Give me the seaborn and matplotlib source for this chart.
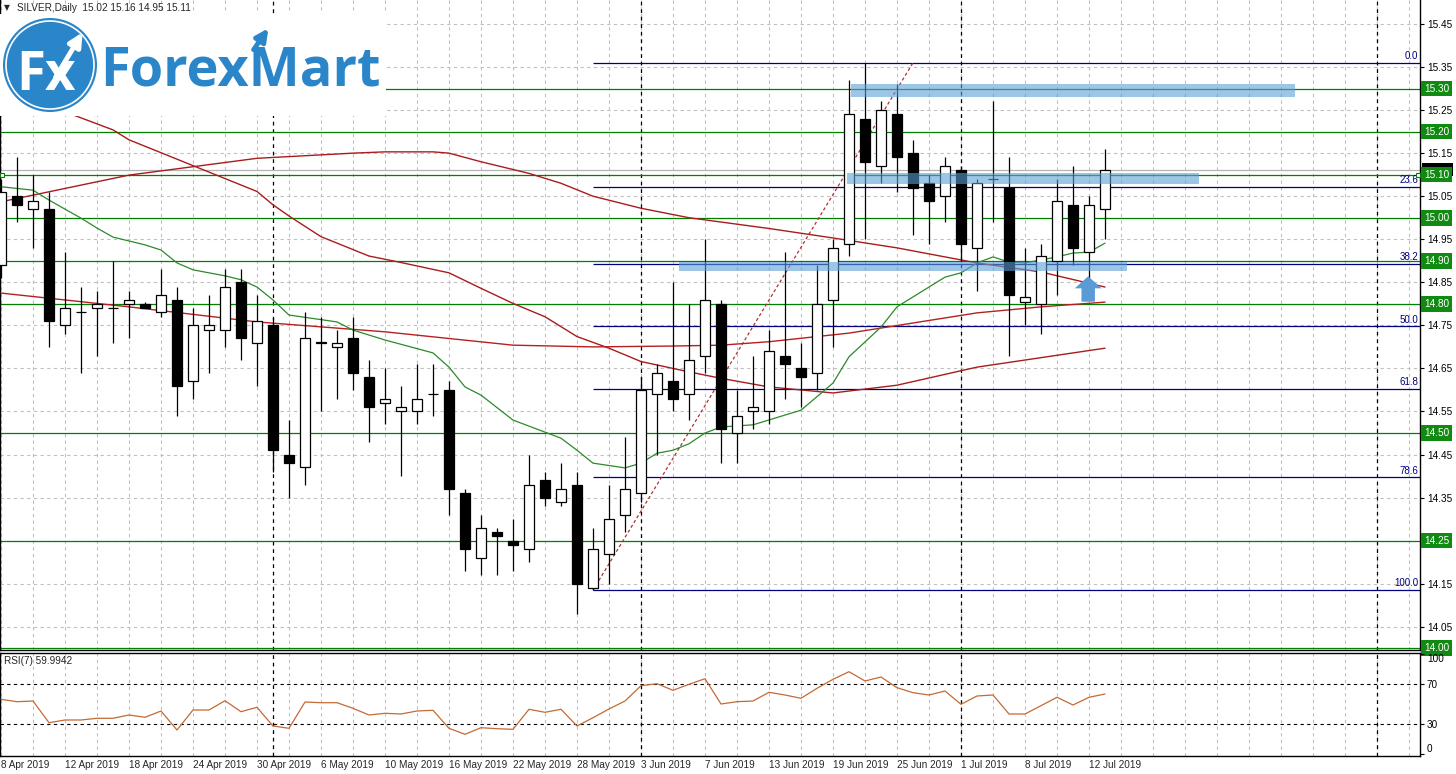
import numpy as np
import pandas as pd
import matplotlib
matplotlib.use("Agg")
import matplotlib.pyplot as plt
import matplotlib.transforms as mtransforms
from matplotlib.patches import Circle, Rectangle, Polygon
import seaborn as sns

# daily candles, bar 0 = 8 Apr 2019
opens = [14.89, 15.05, 15.02, 15.02, 14.75, 14.78, 14.79, 14.79, 14.80, 14.80,
         14.78, 14.81, 14.62, 14.74, 14.74, 14.85, 14.71, 14.75, 14.45, 14.42,
         14.71, 14.70, 14.72, 14.63, 14.57, 14.55, 14.55, 14.59, 14.60, 14.36,
         14.21, 14.27, 14.25, 14.23, 14.39, 14.34, 14.38, 14.14, 14.22, 14.31,
         14.36, 14.59, 14.62, 14.59, 14.68, 14.80, 14.50, 14.55, 14.55, 14.68,
         14.65, 14.64, 14.81, 14.94, 15.23, 15.12, 15.24, 15.15, 15.08, 15.05,
         15.11, 14.93, 15.09, 15.07, 14.805, 14.80, 14.90, 15.03, 14.92, 15.02]
highs = [15.09, 15.14, 15.10, 15.06, 14.92, 14.84, 14.83, 14.90, 14.83, 14.805,
         14.88, 14.84, 14.79, 14.82, 14.88, 14.88, 14.82, 14.77, 14.53, 14.78,
         14.77, 14.74, 14.77, 14.67, 14.65, 14.61, 14.66, 14.66, 14.62, 14.37,
         14.31, 14.28, 14.30, 14.45, 14.41, 14.43, 14.41, 14.28, 14.38, 14.49,
         14.63, 14.66, 14.85, 14.80, 14.95, 14.81, 14.60, 14.68, 14.74, 14.92,
         14.71, 14.89, 14.95, 15.32, 15.36, 15.27, 15.31, 15.18, 15.10, 15.14,
         15.12, 15.09, 15.27, 15.14, 14.93, 14.94, 15.09, 15.12, 15.05, 15.16]
lows = [14.86, 14.99, 14.93, 14.70, 14.73, 14.64, 14.68, 14.71, 14.72, 14.79,
        14.77, 14.54, 14.58, 14.64, 14.70, 14.67, 14.61, 14.41, 14.35, 14.38,
        14.55, 14.58, 14.60, 14.48, 14.52, 14.40, 14.52, 14.54, 14.31, 14.18,
        14.17, 14.17, 14.18, 14.20, 14.33, 14.33, 14.08, 14.135, 14.15, 14.27,
        14.34, 14.45, 14.55, 14.53, 14.64, 14.43, 14.43, 14.51, 14.52, 14.58,
        14.56, 14.60, 14.70, 14.91, 14.95, 15.08, 15.06, 14.96, 14.94, 14.99,
        14.90, 14.83, 14.99, 14.68, 14.75, 14.73, 14.82, 14.89, 14.84, 14.95]
closes = [15.06, 15.03, 15.04, 14.76, 14.79, 14.78, 14.80, 14.79, 14.81, 14.79,
          14.82, 14.61, 14.75, 14.75, 14.84, 14.72, 14.76, 14.46, 14.43, 14.72,
          14.71, 14.71, 14.64, 14.56, 14.58, 14.56, 14.58, 14.59, 14.37, 14.23,
          14.28, 14.26, 14.24, 14.38, 14.35, 14.37, 14.15, 14.23, 14.30, 14.37,
          14.60, 14.64, 14.58, 14.67, 14.81, 14.51, 14.54, 14.56, 14.69, 14.66,
          14.63, 14.80, 14.93, 15.24, 15.13, 15.25, 15.14, 15.07, 15.04, 15.12,
          14.94, 15.08, 15.09, 14.82, 14.815, 14.91, 15.04, 14.93, 15.03, 15.11]

rsi_vals = [54.7, 52.3, 53, 31.3, 34, 34, 35.7, 35.7, 39, 36.7,
            43, 24, 44, 44, 53.3, 42.3, 46.7, 28, 25.7, 52,
            51.3, 51.3, 45.7, 39, 40.7, 40, 43, 43.7, 25.7, 19.7,
            26.3, 25.3, 24.7, 44.7, 41.7, 44.7, 28, 36.3, 45, 53,
            68.3, 70.3, 63.7, 69.7, 75.3, 50, 52.3, 53, 61.7, 59,
            55.7, 65.7, 74.7, 82.3, 73, 77, 66.3, 61.3, 59, 63,
            49.7, 58, 59, 40, 40, 48.3, 56.7, 49, 56.7, 60]

# moving averages at selected bars
ma_fast_bars = [0, 2, 3, 5, 6, 7, 9, 10, 11, 12, 13, 14, 15, 16, 17, 18, 21, 22, 24, 27,
                28, 29, 30, 32, 35, 36, 37, 39, 40, 41, 42, 43, 44, 45, 47, 50, 52, 53,
                55, 56, 58, 59, 60, 61, 62, 63, 64, 65, 66, 67, 68, 69]
ma_fast_vals = [15.072, 15.064, 15.041, 14.999, 14.976, 14.955, 14.937, 14.925, 14.895,
                14.879, 14.872, 14.865, 14.856, 14.839, 14.809, 14.774, 14.758, 14.739,
                14.716, 14.686, 14.653, 14.607, 14.588, 14.530, 14.488, 14.460, 14.430,
                14.419, 14.430, 14.453, 14.460, 14.475, 14.500, 14.514, 14.519, 14.553,
                14.616, 14.677, 14.746, 14.793, 14.839, 14.862, 14.872, 14.895, 14.909,
                14.897, 14.895, 14.902, 14.909, 14.918, 14.920, 14.941]
ma_slow_a_bars = [0, 8, 16, 22, 24, 27, 28, 30, 33, 35, 37, 40, 43, 45, 48, 52, 56, 61, 65, 69]
ma_slow_a_vals = [15.037, 15.099, 15.138, 15.150, 15.153, 15.153, 15.150, 15.130, 15.103,
                  15.080, 15.050, 15.022, 15.000, 14.990, 14.975, 14.953, 14.930, 14.895,
                  14.874, 14.839]
ma_slow_b_bars = [0, 4, 7, 8, 16, 17, 18, 20, 23, 25, 28, 30, 32, 34, 36, 38, 40, 43, 45,
                  48, 52, 56, 61, 69]
ma_slow_b_vals = [15.310, 15.246, 15.204, 15.181, 15.061, 15.030, 15.004, 14.956, 14.911,
                  14.896, 14.872, 14.836, 14.801, 14.770, 14.724, 14.697, 14.666, 14.642,
                  14.627, 14.607, 14.593, 14.611, 14.653, 14.697]
ma_slow_c_bars = [0, 8, 16, 24, 32, 37, 42, 45, 48, 53, 61, 65, 69]
ma_slow_c_vals = [14.825, 14.793, 14.758, 14.735, 14.704, 14.700, 14.702, 14.704, 14.712,
                  14.732, 14.779, 14.793, 14.804]

date_labels = ["8 Apr 2019", "12 Apr 2019", "18 Apr 2019", "24 Apr 2019", "30 Apr 2019",
               "6 May 2019", "10 May 2019", "16 May 2019", "22 May 2019", "28 May 2019",
               "3 Jun 2019", "7 Jun 2019", "13 Jun 2019", "19 Jun 2019", "25 Jun 2019",
               "1 Jul 2019", "8 Jul 2019", "12 Jul 2019"]
month_separators = [17, 40, 60, 86]

levels = [15.30, 15.20, 15.10, 15.00, 14.90, 14.80, 14.50, 14.25, 14.00]
bid_price = 15.11

fib_pcts = ["0.0", "23.6", "38.2", "50.0", "61.8", "78.6", "100.0"]
fib_ratios = [0.0, 0.236, 0.382, 0.5, 0.618, 0.786, 1.0]
fib_low_bar, fib_low = 37, 14.135
fib_high_bar, fib_high = 57, 15.36

# hand-drawn highlight zones: (from bar, to bar, centre price, half height)
zones = [(53.1, 80.9, 15.296, 0.0155),
         (52.9, 74.9, 15.091, 0.013),
         (42.4, 70.4, 14.887, 0.011)]
arrow_bar, arrow_tip, arrow_neck, arrow_base = 67.95, 14.864, 14.836, 14.805

W, H = 1456, 774
GREEN = "#008000"
NAVY = "#000080"
GRID = "#c0c0c0"
BLUE = "#2a86c9"

sns.set_style("white")
plt.rcParams["font.family"] = ["Liberation Sans", "DejaVu Sans"]


def px_rect(x0, y0, x1, y1):
    return [x0 / W, 1 - y1 / H, (x1 - x0) / W, (y1 - y0) / H]


df = pd.DataFrame({"open": opens, "high": highs, "low": lows, "close": closes})
df["bar"] = np.arange(len(df))
df["up"] = df.close >= df.open
df["lo"] = df[["open", "close"]].min(axis=1)
df["h"] = (df.close - df.open).abs().clip(lower=0.0008)

fig = plt.figure(figsize=(W / 100, H / 100), dpi=100)
ax = fig.add_axes(px_rect(0, 0, 1420, 650))
ax2 = fig.add_axes(px_rect(0, 653, 1420, 756))

xmin, xmax = -1 / 16, 1419 / 16
ax.set_xlim(xmin, xmax)
ax.set_ylim(13.996, 15.5057)
ax2.set_xlim(xmin, xmax)
ax2.set_ylim(-2, 101)

dash = (0, (3, 3))
price_ticks = np.round(np.arange(14.05, 15.46, 0.1), 2)
for a in (ax, ax2):
    a.vlines(np.arange(0, 89, 2), 0, 1, transform=a.get_xaxis_transform(),
             colors=GRID, lw=0.8, linestyles=dash, zorder=0)
    a.vlines(month_separators, 0, 1, transform=a.get_xaxis_transform(),
             colors="black", lw=0.9, linestyles=dash, zorder=1)
ax.hlines(price_ticks, xmin, xmax, colors=GRID, lw=0.8, linestyles=dash, zorder=0)

# support / resistance levels and bid line
ax.hlines(bid_price, xmin, xmax, colors="#b4b4b4", lw=0.9, zorder=1.5)
ax.hlines(levels, xmin, xmax, colors=GREEN, lw=0.9, zorder=2)
ax.plot([0.05, xmax - 0.15], [15.10, 15.10], ls="none", marker="s", ms=3.5,
        mfc="white", mec=GREEN, mew=0.8, zorder=8, clip_on=False)

# fibonacci retracement
fib_prices = [fib_high - r * (fib_high - fib_low) for r in fib_ratios]
ax.hlines(fib_prices, fib_low_bar, xmax, colors=NAVY, lw=0.9, zorder=2)
for lab, p in zip(fib_pcts, fib_prices):
    ax.text(xmax - 0.1, p + 0.004, lab, color=NAVY, fontsize=7, ha="right",
            va="bottom", zorder=3)
ax.plot([fib_low_bar, fib_high_bar], [fib_low, fib_high], color="#b03030",
        lw=0.9, ls=(0, (2.5, 2)), zorder=3)

# moving averages
sns.lineplot(x=ma_slow_a_bars, y=ma_slow_a_vals, ax=ax, color="#a81c1c", lw=1.0, zorder=3)
sns.lineplot(x=ma_slow_b_bars, y=ma_slow_b_vals, ax=ax, color="#a81c1c", lw=1.0, zorder=3)
sns.lineplot(x=ma_slow_c_bars, y=ma_slow_c_vals, ax=ax, color="#b52020", lw=1.0, zorder=3)
sns.lineplot(x=ma_fast_bars, y=ma_fast_vals, ax=ax, color="#2b8a2b", lw=0.9, zorder=3)

# candles
ax.vlines(df.bar, df.low, df.high, colors="black", lw=0.9, zorder=4)
up = df[df.up]
dn = df[~df.up]
ax.bar(up.bar, up.h, bottom=up.lo, width=0.64, color="white", edgecolor="black",
       lw=0.9, zorder=5)
ax.bar(dn.bar, dn.h, bottom=dn.lo, width=0.64, color="black", edgecolor="black",
       lw=0.9, zorder=5)

# highlight marker strokes and arrow
for b0, b1, c, hh in zones:
    ax.add_patch(Rectangle((b0, c - hh), b1 - b0, 2 * hh, fc="#5a9fd6", ec="none",
                           alpha=0.6, zorder=6))
ax.add_patch(Polygon([(arrow_bar, arrow_tip), (arrow_bar + 0.84, arrow_neck),
                      (arrow_bar + 0.42, arrow_neck), (arrow_bar + 0.42, arrow_base),
                      (arrow_bar - 0.42, arrow_base), (arrow_bar - 0.42, arrow_neck),
                      (arrow_bar - 0.84, arrow_neck)], closed=True, fc="#5b9bd5",
                     ec="none", zorder=7))

# price scale
for a in (ax, ax2):
    a.yaxis.tick_right()
    a.tick_params(axis="y", direction="out", length=3, width=0.8, pad=2,
                  labelsize=7.2, colors="black")
    for s in a.spines.values():
        s.set_color("black")
        s.set_linewidth(1.0)
ax.spines["top"].set_visible(False)
ax.set_yticks(price_ticks)
# the 14.25 tick label sits under the green 14.25 level box
ax.set_yticklabels(["" if any(abs(p - lv) < 1e-6 for lv in levels) else f"{p:.2f}"
                    for p in price_ticks])
ax.set_xticks([])
ax.set_xlabel("")
ax.set_ylabel("")

blend = mtransforms.blended_transform_factory(ax.transAxes, ax.transData)
# bid price box, mostly hidden behind the 15.10 label
ax.add_patch(Rectangle((1.0014, bid_price - 0.012), 0.0215, 0.03, transform=blend,
                       fc="black", ec="none", clip_on=False, zorder=9))
for lv in levels:
    ax.text(1.0028, lv, f"{lv:.2f}", transform=blend, ha="left", va="center",
            color="white", fontsize=7.2, clip_on=False, zorder=10,
            bbox=dict(boxstyle="square,pad=0.28", fc="#118a11", ec="none"))

# RSI panel
ax2.hlines([70, 30], xmin, xmax, colors="black", lw=0.8, linestyles=dash, zorder=1)
sns.lineplot(x=df.bar, y=rsi_vals, ax=ax2, color="#c46a34", lw=0.9, zorder=3)
ax2.set_yticks([0, 30, 70, 100])
ylabs = ax2.get_yticklabels()
ylabs[0].set_va("bottom")
ylabs[-1].set_va("top")
ax2.set_xticks(np.arange(0, 4 * len(date_labels), 4))
ax2.set_xticklabels(date_labels, ha="left")
ax2.tick_params(axis="x", length=0, pad=3, labelsize=7.2)
ax2.set_xlabel("")
ax2.set_ylabel("")

fig.text(4 / W, 1 - 661 / H, "RSI(7) 59.9942", fontsize=7.2, va="center", ha="left")
fig.text(4 / W, 1 - 8 / H, "\u25bc", fontsize=5.5, va="center", ha="left",
         family=["DejaVu Sans"])
fig.text(17 / W, 1 - 8 / H, "SILVER,Daily  15.02 15.16 14.95 15.11", fontsize=7.2,
         va="center", ha="left")

# logo
lg = fig.add_axes(px_rect(0, 14, 386, 116))
lg.set_zorder(5)
lg.set_xlim(0, 386)
lg.set_ylim(116, 14)
lg.axis("off")
lg.add_patch(Rectangle((0, 14), 386, 102, fc="white", ec="none"))
lg.add_patch(Circle((50, 65), 47, fc=BLUE, ec="none"))
lg.add_patch(Circle((50, 65), 44, fill=False, ec="white", lw=1.2))
lg.text(46, 76, "Fx", color="white", fontsize=38, fontweight="bold",
        family=["Open Sans", "DejaVu Sans"], ha="center", va="center")
lg.annotate("", xy=(84, 30), xytext=(54, 80),
            arrowprops=dict(arrowstyle="-|>", color="white", lw=3.5, mutation_scale=20))
lg.text(100, 86, "ForexMart", color=BLUE, fontsize=39, fontweight="bold",
        family=["Open Sans", "DejaVu Sans"], ha="left", va="baseline")
lg.annotate("", xy=(270, 26), xytext=(252, 52),
            arrowprops=dict(arrowstyle="-|>", color=BLUE, lw=3.5, mutation_scale=18))

fig.savefig("out.png", dpi=100)
